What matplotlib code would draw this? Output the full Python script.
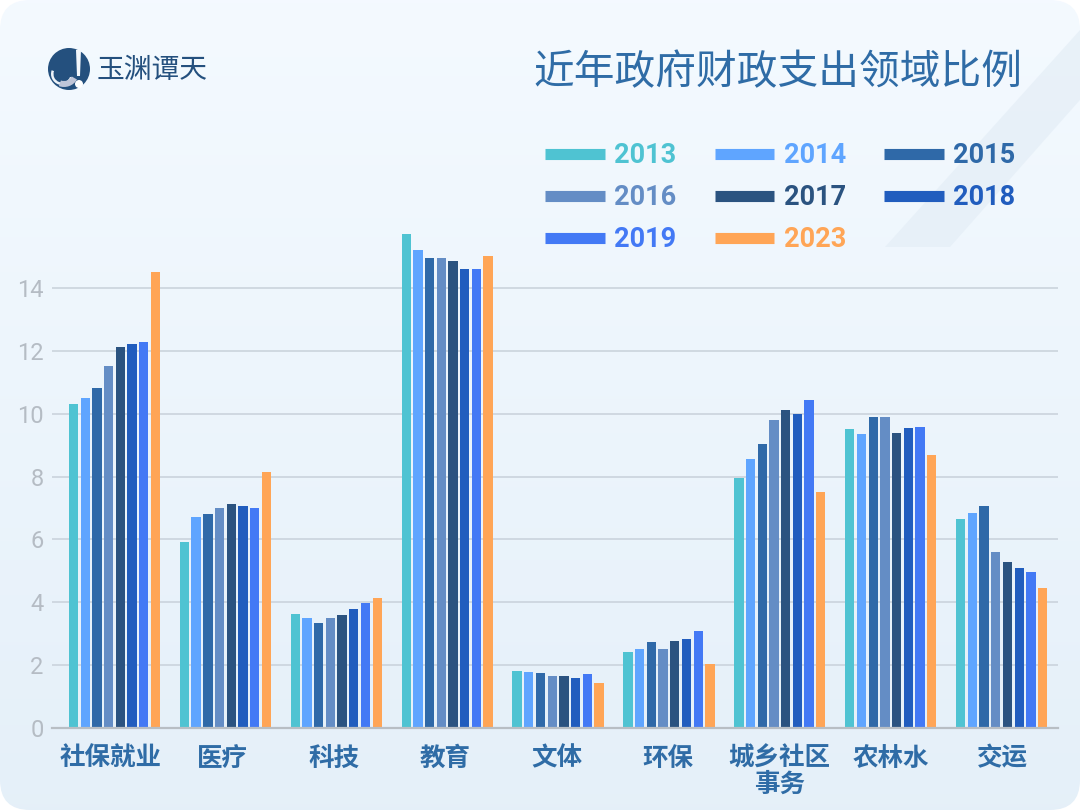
import numpy as np
import matplotlib
matplotlib.use('Agg')
import matplotlib.pyplot as plt
from matplotlib.lines import Line2D
from matplotlib.patches import Circle, FancyBboxPatch, Polygon, Wedge

plt.rcParams['font.family'] = ['Noto Sans CJK SC', 'DejaVu Sans']

categories = ['社保就业', '医疗', '科技', '教育', '文体', '环保', '城乡社区\n事务', '农林水', '交运']
years = ['2013', '2014', '2015', '2016', '2017', '2018', '2019', '2023']
colors = ['#4FC3D2', '#5FA5FF', '#2F69A8', '#648DC5', '#2B5380', '#215DBE', '#4379F5', '#FFA556']

v2013 = [10.3, 5.93, 3.63, 15.7, 1.8, 2.42, 7.95, 9.5, 6.65]
v2014 = [10.5, 6.7, 3.5, 15.2, 1.77, 2.5, 8.55, 9.35, 6.85]
v2015 = [10.8, 6.8, 3.33, 14.95, 1.75, 2.72, 9.05, 9.88, 7.05]
v2016 = [11.5, 7.0, 3.5, 14.95, 1.67, 2.5, 9.8, 9.88, 5.6]
v2017 = [12.12, 7.12, 3.6, 14.85, 1.67, 2.76, 10.12, 9.4, 5.27]
v2018 = [12.2, 7.07, 3.77, 14.6, 1.6, 2.83, 10.0, 9.55, 5.1]
v2019 = [12.28, 7.0, 3.97, 14.6, 1.72, 3.1, 10.42, 9.57, 4.97]
v2023 = [14.5, 8.15, 4.15, 15.0, 1.42, 2.05, 7.5, 8.7, 4.45]
series = [v2013, v2014, v2015, v2016, v2017, v2018, v2019, v2023]
yticks = [0, 2, 4, 6, 8, 10, 12, 14]

W, H = 1080, 810
fig = plt.figure(figsize=(W/100, H/100), dpi=100, facecolor='white')

# background card in pixel coordinates
bg = fig.add_axes([0, 0, 1, 1])
bg.set_xlim(0, W)
bg.set_ylim(H, 0)
bg.axis('off')
grad = np.linspace(0, 1, 256).reshape(-1, 1, 1)
top = np.array([0.957, 0.980, 1.0]).reshape(1, 1, 3)
bottom = np.array([0.898, 0.941, 0.976]).reshape(1, 1, 3)
img = bg.imshow(top*(1-grad)+bottom*grad, extent=(0, W, H, 0), aspect='auto', zorder=0)
card = FancyBboxPatch((0, 0), W, H, boxstyle='round,pad=0,rounding_size=30',
                      transform=bg.transData, facecolor='none', edgecolor='none')
bg.add_patch(card)
img.set_clip_path(card)
bg.add_patch(Polygon([(885, 247), (950, 247), (1080, 100), (1080, 30)], closed=True,
                     facecolor='#E3EDF6', edgecolor='none', alpha=0.65, zorder=1))

# logo
bg.add_patch(Circle((69, 69), 21, facecolor='#24507E', edgecolor='none', zorder=2))
bg.add_patch(Wedge((62, 74), 11, 20, 200, width=2.5, facecolor='#EEF3F9', edgecolor='none', zorder=3))
bg.add_patch(Wedge((64, 72), 15, 30, 110, width=6, facecolor='#BFC5D8', edgecolor='none', zorder=3))
bg.add_patch(Polygon([(76, 50), (81, 50), (80, 76), (77, 76)], closed=True, facecolor='#F2F6FB', edgecolor='none', zorder=4))
bg.add_patch(Circle((79, 84), 4, facecolor='white', edgecolor='none', zorder=4))
bg.text(152, 70, '玉渊谭天', fontsize=20, color='#24507E', ha='center', va='center', zorder=3)

bg.text(777.5, 73, '近年政府财政支出领域比例', fontsize=29.3, color='#2F6CA6', ha='center', va='center')

# chart area
ax = fig.add_axes([52/W, 1-728/H, (1058-52)/W, (728-220)/H])
ax.patch.set_alpha(0)
x = np.arange(len(categories))
step = 0.1055
width = 0.084
for i, vals in enumerate(series):
    ax.bar(x + (i-3.5)*step, vals, width=width, color=colors[i], zorder=3)

ax.set_xlim(-0.5636, 8.508)
ax.set_ylim(0, 16.16)
ax.set_yticks(yticks)
# labels sit a little off the group centres in the reference
ax.set_xticks(-0.032 + x*8.039/8)
ax.set_xticklabels(categories, fontsize=18.4, fontweight='bold', color='#2F6CA6', linespacing=0.95)
ax.tick_params(axis='y', length=0, pad=6, labelcolor='#B5BCC4')
for t in ax.get_yticklabels():
    t.set_family('Roboto')
    t.set_fontsize(17)
ax.tick_params(axis='x', length=0, pad=12)
ax.grid(axis='y', color='#CDD6DF', linewidth=1.3, zorder=0)
for s in ['top', 'left', 'right']:
    ax.spines[s].set_visible(False)
ax.spines['bottom'].set_color('#B8BEC4')
ax.spines['bottom'].set_linewidth(1.6)
ax.spines['bottom'].set_zorder(4)

# legend fills by column, so order handles column-wise
order = [0, 3, 6, 1, 4, 7, 2, 5]
handles = [Line2D([0], [0], color=colors[i], linewidth=8, solid_capstyle='butt', label=years[i]) for i in order]
leg = fig.legend(handles=handles, ncol=3, loc='upper left', bbox_to_anchor=(521/W, 1-118/H), frameon=False,
                 prop={'family': 'Roboto', 'size': 19.5, 'weight': 'bold'}, handlelength=2.2, handletextpad=0.35,
                 columnspacing=1.4, labelspacing=0.55, borderpad=0.4)
for t, i in zip(leg.get_texts(), order):
    t.set_color(colors[i])

fig.savefig('out.png', dpi=100)
